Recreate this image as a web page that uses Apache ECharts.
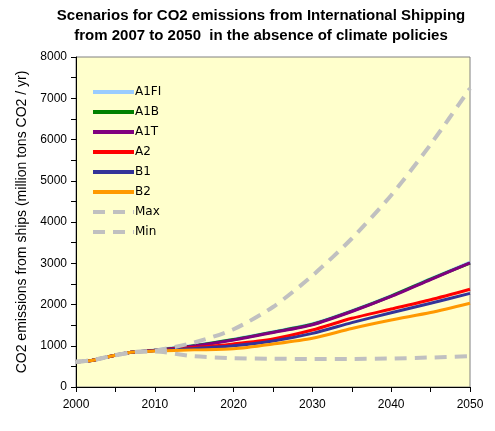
<!DOCTYPE html>
<html>
<head>
<meta charset="utf-8">
<script src="https://cdn.jsdelivr.net/npm/echarts@6/dist/echarts.min.js"></script>
<style>html,body{margin:0;padding:0;background:#fff;}#c{width:495px;height:431px;}</style>
</head>
<body>
<div id="c"></div>
<script>
const titleLines = ['Scenarios for CO2 emissions from International Shipping', 'from 2007 to 2050  in the absence of climate policies'];
const yAxisName = 'CO2 emissions from ships (million tons CO2 / yr)';
const years = [2000, 2002, 2004, 2007, 2010, 2015, 2020, 2025, 2030, 2035, 2040, 2045, 2050];
const A1FI = [615, 645, 730, 840, 895, 1010, 1160, 1340, 1535, 1850, 2215, 2625, 3025];
const A1B  = [615, 645, 730, 840, 890, 1000, 1150, 1330, 1520, 1840, 2205, 2615, 3005];
const A1T  = [615, 645, 730, 840, 890, 995, 1140, 1320, 1510, 1830, 2195, 2605, 3010];
const A2   = [615, 645, 730, 840, 885, 955, 1045, 1165, 1380, 1665, 1890, 2115, 2370];
const B1   = [615, 645, 730, 840, 880, 935, 1000, 1115, 1300, 1560, 1800, 2030, 2270];
const B2   = [615, 645, 730, 840, 870, 900, 925, 1040, 1180, 1420, 1625, 1805, 2030];
const Max  = [615, 645, 730, 840, 880, 1080, 1400, 1940, 2700, 3600, 4650, 5880, 7240];
const Min  = [615, 645, 730, 840, 860, 745, 700, 685, 680, 680, 690, 715, 745];

const seriesDefs = [
  {name: 'A1FI', data: A1FI, color: '#99CCFF', dash: null},
  {name: 'A1B', data: A1B, color: '#008000', dash: null},
  {name: 'A1T', data: A1T, color: '#800080', dash: null},
  {name: 'A2', data: A2, color: '#FF0000', dash: null},
  {name: 'B1', data: B1, color: '#333399', dash: null},
  {name: 'B2', data: B2, color: '#FF9900', dash: null},
  {name: 'Max', data: Max, color: '#C0C0C0', dash: [12, 8]},
  {name: 'Min', data: Min, color: '#C0C0C0', dash: [12, 8]}
];

const chart = echarts.init(document.getElementById('c'), null, {renderer: 'canvas'});
chart.setOption({
  backgroundColor: '#ffffff',
  animation: false,
  title: {
    text: titleLines.join('\n'),
    left: 256, textAlign: 'center', top: 1,
    textStyle: {fontFamily: 'Liberation Sans, Arial', fontSize: 15, fontWeight: 'bold', color: '#000', lineHeight: 20}
  },
  legend: {
    orient: 'vertical', left: 86, top: 81,
    itemWidth: 41, itemHeight: 14, itemGap: 8,
    itemStyle: {opacity: 0},
    lineStyle: {width: 4},
    textStyle: {fontFamily: 'DejaVu Sans', fontSize: 12, color: '#000', padding: [0,0,0,-4]},
    data: seriesDefs.map(s => s.name)
  },
  grid: {
    left: 76, right: 25, top: 57, bottom: 44,
    show: true, backgroundColor: '#FFFFCC', borderColor: '#808080', borderWidth: 1
  },
  xAxis: {
    type: 'value', min: 2000, max: 2050, interval: 10,
    axisLine: {show: true, lineStyle: {color: '#000', width: 1}},
    axisTick: {show: true, length: 5, inside: false, lineStyle: {color: '#000'}},
    minorTick: {show: true, splitNumber: 2, length: 5, lineStyle: {color: '#000'}},
    splitLine: {show: false},
    axisLabel: {fontFamily: 'Liberation Sans, Arial', fontSize: 12, color: '#000', margin: 12, formatter: v => String(v)}
  },
  yAxis: {
    type: 'value', min: 0, max: 8000, interval: 1000,
    name: yAxisName, nameLocation: 'middle', nameGap: 39,
    nameTextStyle: {fontFamily: 'Liberation Sans, Arial', fontSize: 14, color: '#000'},
    axisLine: {show: true, lineStyle: {color: '#000', width: 1}},
    axisTick: {show: true, length: 5, inside: false, lineStyle: {color: '#000'}},
    minorTick: {show: true, splitNumber: 2, length: 5, lineStyle: {color: '#000'}},
    splitLine: {show: false},
    axisLabel: {fontFamily: 'Liberation Sans, Arial', fontSize: 12, color: '#000', margin: 9, formatter: v => String(v)}
  },
  series: seriesDefs.map(s => ({
    name: s.name, type: 'line', symbol: 'none', smooth: 0.25,
    data: years.map((y, i) => [y, s.data[i]]),
    color: s.color,
    lineStyle: {color: s.color, width: s.dash ? 4 : 3, type: s.dash ? s.dash : 'solid'},
    emphasis: {disabled: true}
  }))
});
</script>
</body>
</html>
